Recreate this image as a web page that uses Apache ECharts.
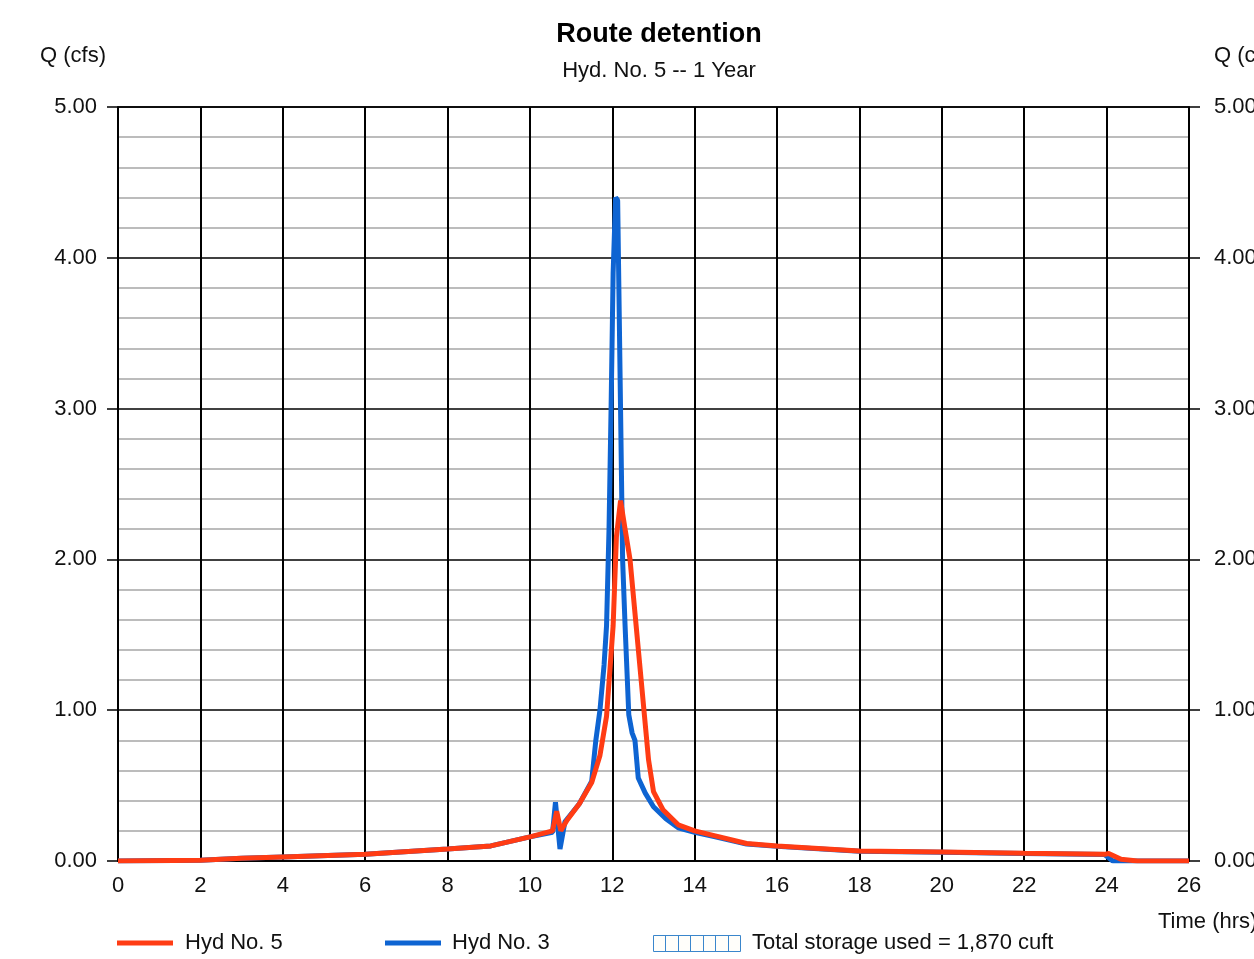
<!DOCTYPE html>
<html>
<head>
<meta charset="utf-8">
<script src="https://cdn.jsdelivr.net/npm/echarts@6/dist/echarts.min.js"></script>
<style>
  html, body { margin: 0; padding: 0; background: #fff; }
  #chart { width: 1254px; height: 959px; }
</style>
</head>
<body>
<div id="chart"></div>
<script>
// Hyd No. 5 (outflow)
const hyd5Time = [0, 2, 3, 4, 6, 8, 9.05, 10, 10.55, 10.65, 10.75, 10.9, 11.2, 11.5, 11.7, 11.86, 12.02, 12.1, 12.2, 12.31, 12.43, 12.68, 12.88, 13.0, 13.23, 13.6, 14.0, 14.5, 15.26, 16, 18, 20, 22, 23.95, 24.05, 24.35, 24.75, 26];
const hyd5Q = [0, 0.005, 0.018, 0.027, 0.045, 0.079, 0.1, 0.16, 0.2, 0.33, 0.2, 0.27, 0.38, 0.52, 0.7, 0.96, 1.56, 2.15, 2.39, 2.2, 2.0, 1.26, 0.67, 0.46, 0.34, 0.24, 0.2, 0.167, 0.116, 0.1, 0.067, 0.06, 0.051, 0.044, 0.05, 0.011, 0, 0];

// Hyd No. 3 (inflow)
const hyd3Time = [0, 2, 3, 4, 6, 8, 9.05, 10, 10.55, 10.62, 10.73, 10.85, 11.2, 11.5, 11.6, 11.7, 11.8, 11.86, 11.92, 11.97, 12.02, 12.08, 12.13, 12.2, 12.25, 12.31, 12.4, 12.48, 12.55, 12.63, 12.8, 13.0, 13.3, 13.6, 14.0, 14.5, 15.26, 16, 18, 20, 22, 23.95, 24.15, 26];
const hyd3Q = [0, 0.005, 0.018, 0.027, 0.045, 0.079, 0.1, 0.16, 0.19, 0.39, 0.08, 0.26, 0.38, 0.53, 0.8, 1.0, 1.3, 1.56, 2.2, 3.0, 3.9, 4.4, 4.38, 3.0, 2.0, 1.56, 0.97, 0.85, 0.8, 0.55, 0.45, 0.36, 0.28, 0.22, 0.19, 0.16, 0.112, 0.097, 0.065, 0.058, 0.05, 0.043, 0, 0];

const titleText = "Route detention";
const subtitleText = "Hyd. No. 5 -- 1 Year";
const storageText = "Total storage used = 1,870 cuft";

const font = "'Liberation Sans', Arial, sans-serif";
const fs = 22;
const red = "#ff3c14";
const blue = "#0e64d2";

const zip = (xs, ys) => xs.map((x, i) => [x, ys[i]]);

// hatched legend box for storage
const hatch = [];
for (let i = 1; i < 7; i++) {
  const x = Math.round(653 + i * 87 / 7) + 0.5;
  hatch.push({ type: "line", shape: { x1: x, y1: 935, x2: x, y2: 951 }, style: { stroke: "#3a86cc", lineWidth: 1 } });
}

const chart = echarts.init(document.getElementById("chart"));
chart.setOption({
  animation: false,
  backgroundColor: "#fff",
  textStyle: { fontFamily: font },
  title: {
    text: titleText,
    subtext: subtitleText,
    left: 654,
    textAlign: "center",
    top: 16,
    itemGap: 12,
    textStyle: { fontFamily: font, fontSize: 27, fontWeight: "bold", color: "#000" },
    subtextStyle: { fontFamily: font, fontSize: fs, color: "#111" }
  },
  grid: {
    left: 118, right: 65, top: 107, bottom: 98,
    outerBoundsMode: "none", containLabel: false,
    show: true, borderColor: "#000", borderWidth: 1.5, backgroundColor: "transparent"
  },
  legend: [
    {
      data: ["Hyd No. 5"], left: 117, top: 932, padding: 0, icon: "rect",
      itemWidth: 56, itemHeight: 5, selectedMode: false,
      textStyle: { fontFamily: font, fontSize: fs, color: "#111", padding: [0, 0, 0, 7] }
    },
    {
      data: ["Hyd No. 3"], left: 385, top: 932, padding: 0, icon: "rect",
      itemWidth: 56, itemHeight: 5, selectedMode: false,
      textStyle: { fontFamily: font, fontSize: fs, color: "#111", padding: [0, 0, 0, 6] }
    }
  ],
  xAxis: {
    type: "value", min: 0, max: 26, interval: 2,
    axisLine: { show: true, onZero: false, lineStyle: { color: "#000", width: 1.5 } },
    axisTick: { show: false },
    axisLabel: { margin: 14, fontFamily: font, fontSize: fs, color: "#111" },
    splitLine: { show: true, lineStyle: { color: "#000", width: 2 } }
  },
  yAxis: [
    {
      type: "value", min: 0, max: 5, interval: 1, position: "left",
      axisLine: { show: true, lineStyle: { color: "#000", width: 1.5 } },
      axisTick: { show: true, inside: false, length: 11, lineStyle: { color: "#000", width: 1.5 } },
      axisLabel: { margin: 21, fontFamily: font, fontSize: fs, color: "#111", formatter: v => v.toFixed(2) },
      splitLine: { show: true, lineStyle: { color: "#000", width: 1.5 } },
      minorTick: { show: false, splitNumber: 5 },
      minorSplitLine: { show: true, lineStyle: { color: "#bcbcbc", width: 2 } }
    },
    {
      type: "value", min: 0, max: 5, interval: 1, position: "right",
      axisLine: { show: true, lineStyle: { color: "#000", width: 1.5 } },
      axisTick: { show: true, inside: false, length: 11, lineStyle: { color: "#000", width: 1.5 } },
      axisLabel: { margin: 25, fontFamily: font, fontSize: fs, color: "#111", formatter: v => v.toFixed(2) },
      splitLine: { show: false }
    }
  ],
  graphic: [
    { type: "text", left: 40, top: 45, style: { text: "Q (cfs)", font: fs + "px " + font, fill: "#111" } },
    { type: "text", left: 1214, top: 45, style: { text: "Q (cfs)", font: fs + "px " + font, fill: "#111" } },
    { type: "text", left: 1158, top: 911, style: { text: "Time (hrs)", font: fs + "px " + font, fill: "#111" } },
    { type: "rect", shape: { x: 653.5, y: 935.5, width: 87, height: 16 }, style: { fill: "#fffefa", stroke: "#3a86cc", lineWidth: 1 } },
    { type: "group", children: hatch },
    { type: "text", left: 752, top: 932, style: { text: storageText, font: fs + "px " + font, fill: "#111" } }
  ],
  series: [
    {
      name: "Hyd No. 3", type: "line", data: zip(hyd3Time, hyd3Q),
      showSymbol: false, lineStyle: { color: blue, width: 5 }, itemStyle: { color: blue }, z: 3
    },
    {
      name: "Hyd No. 5", type: "line", data: zip(hyd5Time, hyd5Q),
      showSymbol: false, lineStyle: { color: red, width: 5 }, itemStyle: { color: red }, z: 4
    }
  ]
});
</script>
</body>
</html>
